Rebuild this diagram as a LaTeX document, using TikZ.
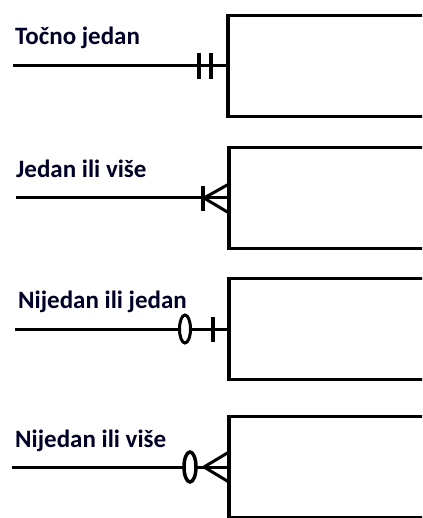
\documentclass[tikz,border=0pt]{standalone}
\usepackage{fontspec}
\setmainfont{Carlito}
\usetikzlibrary{calc}
\begin{document}
\begin{tikzpicture}[x=1pt,y=-1pt,
  entity/.style={minimum width=4pt,minimum height=101pt,inner sep=0pt,outer sep=0pt,anchor=west},
  edge/.style={line width=3.5pt},
  rel/.style={line width=3pt},
  sym/.style={line width=3pt},
  lbl/.style={anchor=base west,inner sep=0pt,font=\bfseries\fontsize{25}{28}\selectfont,text=black!85!blue}]
\useasboundingbox (0,0) rectangle (422,518);
\clip (0,0) rectangle (422,518);
% boxes (open to the right, running off the picture)
\node[entity] (b1) at (228,66) {};
\node[entity] (b2) at (229,198) {};
\node[entity] (b3) at (229,329) {};
\node[entity] (b4) at (229,467) {};
\foreach \b in {b1,b2,b3,b4}
  \draw[edge] ($(\b.north west)+(240,0)$) -- (\b.north west) -- (\b.south west) -- ++(240,0);
% free ends
\coordinate (s1) at (13,66);
\coordinate (s2) at (16,198);
\coordinate (s3) at (15,329);
\coordinate (s4) at (12,467);
% labels
\node[lbl] (t1) at (15,45) {Točno jedan};
\node[lbl] (t2) at (16,178) {Jedan ili više};
\node[lbl] (t3) at (18,308) {Nijedan ili jedan};
\node[lbl] (t4) at (15,447) {Nijedan ili više};
% connectors
\draw[rel] (s1) -- (b1.west);
\draw[rel] (s2) -- (b2.west);
\draw[rel] (s3) -- (b3.west);
\draw[rel] (s4) -- (b4.west);
% exactly one
\draw[sym,line width=4pt] ($(b1.west)+(-29,-13)$) -- ++(0,26);
\draw[sym,line width=4pt] ($(b1.west)+(-17,-13)$) -- ++(0,26);
% one or more
\draw[sym,line width=4pt] ($(b2.west)+(-26,-12)$) -- ++(0,25);
\draw[sym] ($(b2.west)+(-25,0)$) -- ($(b2.west)+(0,-14)$);
\draw[sym] ($(b2.west)+(-25,0)$) -- ($(b2.west)+(0,15)$);
% zero or one
\draw[sym,fill=white] ($(b3.west)+(-44,0)$) ellipse [x radius=5.5pt,y radius=14pt];
\draw[sym,line width=3.5pt] ($(b3.west)+(-16,-12)$) -- ++(0,25);
% zero or more
\draw[sym,line width=3.5pt,fill=white] ($(b4.west)+(-39,0)$) ellipse [x radius=6pt,y radius=15pt];
\draw[sym] ($(b4.west)+(-25,0)$) -- ($(b4.west)+(0,-15)$);
\draw[sym] ($(b4.west)+(-25,0)$) -- ($(b4.west)+(0,15)$);
\end{tikzpicture}
\end{document}
